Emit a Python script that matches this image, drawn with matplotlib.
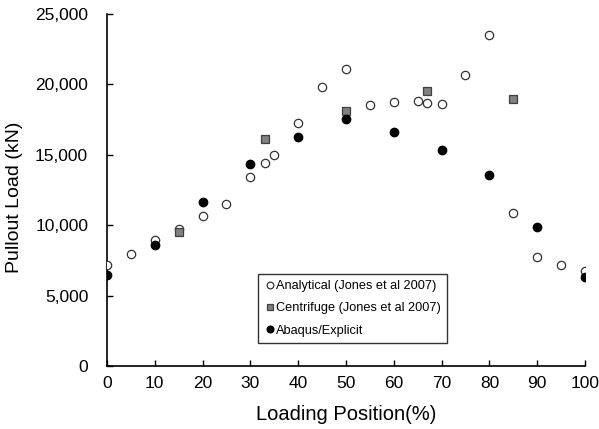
import numpy as np
import matplotlib.pyplot as plt
from matplotlib.ticker import FuncFormatter

plt.rcParams['font.family'] = ['Liberation Sans', 'DejaVu Sans']

# Analytical (Jones et al 2007)
ana_x = [0, 5, 10, 15, 20, 25, 30, 33, 35, 40, 45, 50, 55, 60, 65, 67, 70, 75, 80, 85, 90, 95, 100]
ana_y = [7170, 7980, 8930, 9730, 10630, 11500, 13400, 14400, 14990, 17260, 19790, 21080,
         18540, 18770, 18820, 18660, 18590, 20650, 23490, 10870, 7760, 7190, 6770]

# Centrifuge (Jones et al 2007)
cen_x = [15, 33, 50, 67, 85]
cen_y = [9540, 16100, 18110, 19530, 18990]

# Abaqus/Explicit
abq_x = [0, 10, 20, 30, 40, 50, 60, 70, 80, 90, 100]
abq_y = [6460, 8570, 11620, 14350, 16240, 17540, 16620, 15320, 13590, 9890, 6320]

fig = plt.figure(figsize=(5.99, 4.29), dpi=100)
ax = fig.add_axes([0.1786, 0.1469, 0.798, 0.8205])

ax.plot(ana_x, ana_y, 'o', ms=6, mfc='white', mec='#333333', mew=0.9,
        label='Analytical (Jones et al 2007)', zorder=3)
ax.plot(cen_x, cen_y, 's', ms=6, mfc='#808080', mec='#404040', mew=0.9,
        label='Centrifuge (Jones et al 2007)', zorder=4)
ax.plot(abq_x, abq_y, 'o', ms=6, mfc='black', mec='black',
        label='Abaqus/Explicit', zorder=5)

ax.set_xlim(0, 100)
ax.set_ylim(0, 25000)
ax.set_xticks(np.arange(0, 101, 10))
ax.set_yticks(np.arange(0, 25001, 5000))
ax.yaxis.set_major_formatter(FuncFormatter(lambda v, p: f'{int(v):,}'))
ax.tick_params(direction='in', length=4, width=1, labelsize=12.5, colors='black')
ax.tick_params(axis='x', pad=7)
ax.tick_params(axis='y', pad=13.5)
for s in ['top', 'right']:
    ax.spines[s].set_visible(False)
for s in ['left', 'bottom']:
    ax.spines[s].set_linewidth(1.2)

ax.set_xlabel('Loading Position(%)', fontsize=14.5, va='center')
ax.xaxis.set_label_coords(0.5, -0.139)
ax.set_ylabel('Pullout Load (kN)', fontsize=14, va='center')
ax.yaxis.set_label_coords(-0.1925, 0.48)

leg = ax.legend(loc='lower left', bbox_to_anchor=(0.316, 0.065), fontsize=9.2,
                handletextpad=0.0, handlelength=0.9, borderpad=0.5,
                labelspacing=0.8, fancybox=False, framealpha=1, borderaxespad=0,
                markerscale=0.8)
leg.get_frame().set_edgecolor('#333333')
leg.get_frame().set_linewidth(1.0)

plt.savefig('out.png', dpi=100)
